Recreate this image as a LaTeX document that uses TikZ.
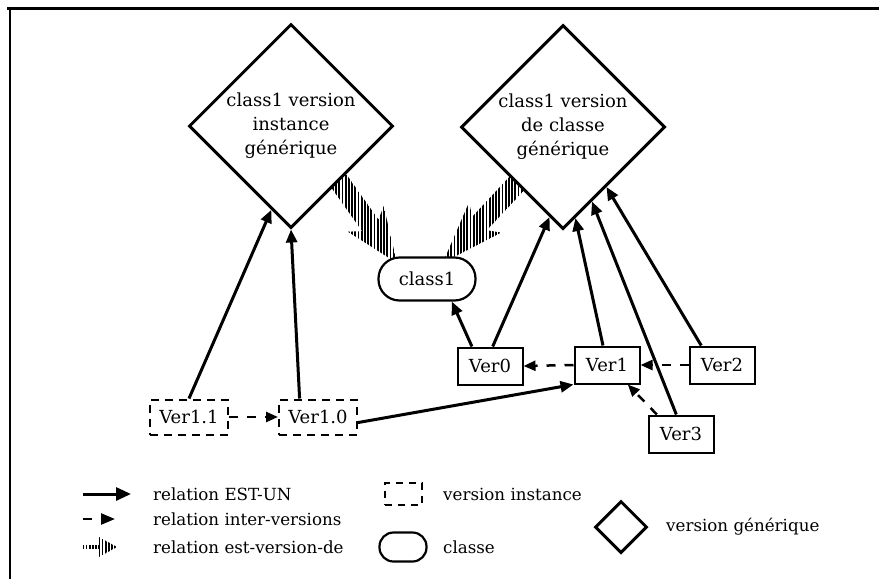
\documentclass[tikz,border=0pt]{standalone}
\usepackage{fontspec}
\setmainfont{DejaVu Serif}
\usetikzlibrary{shapes.geometric,arrows.meta,calc,patterns.meta}
\pgfdeclarelayer{bg}
\pgfsetlayers{bg,main}
\newcommand\fatarrow[2]{%
  \fill[hatch] ($(#1)!10pt!90:(#2)$) -- ($(#1)!66pt!(#2)!10pt!90:(#2)$) -- ($(#1)!58pt!(#2)!22pt!90:(#2)$) -- (#2) -- ($(#1)!58pt!(#2)!22pt!-90:(#2)$) -- ($(#1)!66pt!(#2)!10pt!-90:(#2)$) -- ($(#1)!10pt!-90:(#2)$) -- cycle;}
\begin{document}
\begin{tikzpicture}[x=1pt,y=-1pt,
  gen/.style={draw,line width=3pt,shape=diamond,shape aspect=1,inner sep=0pt,minimum width=204pt,minimum height=204pt,fill=white,align=center,font=\fontsize{18}{24}\selectfont},
  cls/.style={draw,line width=2.2pt,rounded corners=21pt,minimum width=97pt,minimum height=43pt,inner sep=0pt,fill=white,font=\fontsize{18}{22}\selectfont},
  ver/.style={draw,line width=2pt,minimum width=65pt,minimum height=37pt,inner sep=0pt,fill=white,font=\fontsize{18}{22}\selectfont},
  inst/.style={draw,line width=2pt,dash pattern=on 8pt off 6pt,minimum width=78pt,minimum height=35pt,inner sep=0pt,fill=white,font=\fontsize{18}{22}\selectfont},
  isa/.style={line width=3pt,-{Triangle[length=13pt,width=11pt]}},
  inter/.style={line width=2.5pt,dash pattern=on 9pt off 9pt,-{Triangle[length=12pt,width=10pt]}},
  hatch/.style={pattern={Lines[angle=90,distance=3.2pt,line width=1.8pt]}},
  legtext/.style={anchor=west,inner sep=0pt,font=\fontsize{16.7}{20}\selectfont}
]
\useasboundingbox (0,0) rectangle (879,579);
% frame
\draw[line width=3pt] (7,8) -- (879,8);
\draw[line width=2.5pt] (10,7) -- (10,579);

% nodes
\node[gen] (D1) at (291,126) {class1 version\\instance\\générique};
\node[gen] (D2) at (563,127) {class1 version\\de classe\\générique};
\node[cls] (class1) at (427,279) {class1};
\node[ver] (Ver0) at (490,366) {Ver0};
\node[ver] (Ver1) at (607,365) {Ver1};
\node[ver] (Ver2) at (722,365) {Ver2};
\node[ver] (Ver3) at (681,434) {Ver3};
\node[inst] (Ver11) at (189,417) {Ver1.1};
\node[inst] (Ver10) at (318,417) {Ver1.0};

% est-version-de (hatched fat arrows)
\coordinate (e1) at ($(D1.south)!0.465!(D1.east)$);
\coordinate (c1) at ($(class1.north west)!0.15!(class1.north east)$);
\coordinate (t1) at ($(e1)!-12pt!(c1)$);
\coordinate (h1) at ($(e1)!1.09!(c1)$);
\coordinate (e2) at ($(D2.south)!0.45!(D2.west)$);
\coordinate (c2) at ($(class1.north west)!0.72!(class1.north east)$);
\coordinate (t2) at ($(e2)!-12pt!(c2)$);
\coordinate (h2) at ($(e2)!1.09!(c2)$);
\begin{pgfonlayer}{bg}
\fatarrow{t1}{h1}
\fatarrow{t2}{h2}
\end{pgfonlayer}

% EST-UN relations
\draw[isa] (Ver11.north) -- ($(D1.south)!0.19!(D1.west)$);
\draw[isa] ($(Ver10.north west)!0.27!(Ver10.north east)$) -- (D1.south);
\draw[isa] ($(Ver10.east)!0.3!(Ver10.south east)$) -- (Ver1.south west);
\draw[isa] ($(Ver0.north west)!0.23!(Ver0.north east)$) -- ($(class1.south)!0.5!(class1.south east)$);
\draw[isa] ($(Ver0.north west)!0.54!(Ver0.north east)$) -- ($(D2.south)!0.13!(D2.west)$);
\draw[isa] ($(Ver1.north west)!0.44!(Ver1.north east)$) -- ($(D2.south)!0.12!(D2.east)$);
\draw[isa] ($(Ver3.north west)!0.43!(Ver3.north east)$) -- ($(D2.south)!0.28!(D2.east)$);
\draw[isa] ($(Ver2.north west)!0.19!(Ver2.north east)$) -- ($(D2.south)!0.42!(D2.east)$);

% inter-versions relations
\draw[inter] (Ver11.east) -- (Ver10.west);
\draw[inter] (Ver1.west) -- (Ver0.east);
\draw[inter] (Ver2.west) -- (Ver1.east);
\draw[inter] ($(Ver3.north west)!0.14!(Ver3.north east)$) -- ($(Ver1.south west)!0.81!(Ver1.south east)$);

% legend
\coordinate (la1) at (83,494); \coordinate (lb1) at (131,494);
\draw[line width=3pt,-{Triangle[length=15pt,width=13pt]}] (la1) -- (lb1);
\node[legtext] (lt1) at (153,494) {relation EST-UN};
\coordinate (la2) at (83,519); \coordinate (lb2) at (115,519);
\draw[inter,-{Triangle[length=14pt,width=11pt]}] (la2) -- (lb2);
\node[legtext] (lt2) at (153,519) {relation inter-versions};
\fill[hatch] (83,545.5) rectangle (100,548.5);
\fill[hatch] (99,537) -- (117,547) -- (99,557) -- cycle;
\node[legtext] (lt3) at (153,547) {relation est-version-de};

\node[draw,line width=2pt,dash pattern=on 7pt off 6pt,minimum width=37pt,minimum height=22pt,inner sep=0pt] (lbox) at (403,494) {};
\node[legtext] (lt4) at (443,494) {version instance};
\node[draw,line width=2.2pt,rounded corners=14pt,minimum width=47pt,minimum height=29pt,inner sep=0pt] (lcls) at (403,547) {};
\node[legtext] (lt5) at (443,547) {classe};
\node[draw,line width=3pt,shape=diamond,shape aspect=1,minimum width=52pt,minimum height=52pt,inner sep=0pt] (ldia) at (621,527) {};
\node[legtext] (lt6) at (666,527) {version générique};
\end{tikzpicture}
\end{document}
